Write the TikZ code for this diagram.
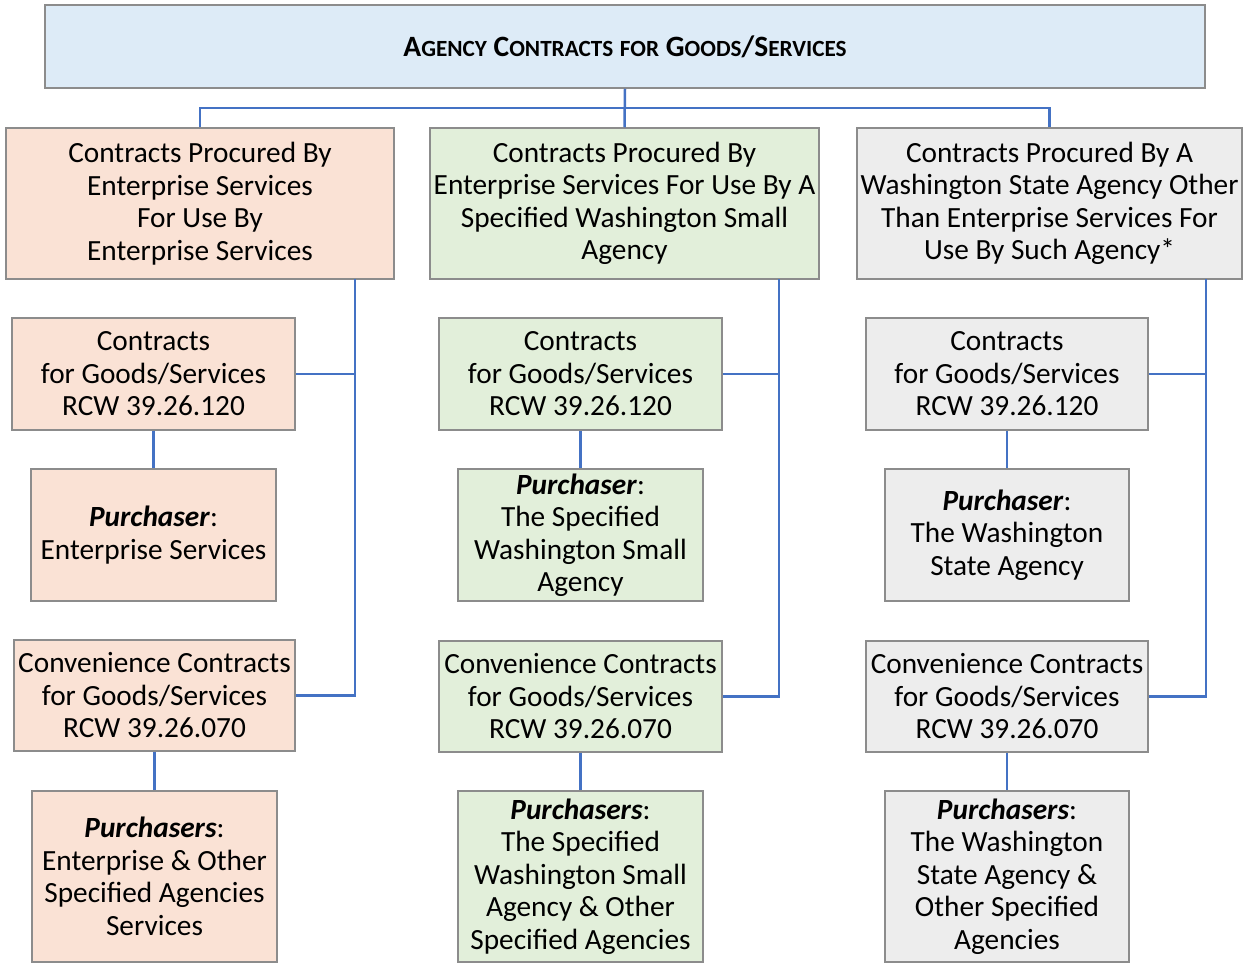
\documentclass[tikz,border=0pt]{standalone}
\usepackage{fontspec}
\setmainfont{Carlito}
\definecolor{peach}{HTML}{FAE2D5}
\definecolor{lgreen}{HTML}{E2EFDA}
\definecolor{lgray}{HTML}{EDEDED}
\definecolor{lblue}{HTML}{DDEBF7}
\definecolor{bordergray}{HTML}{8C8C8C}
\definecolor{lineblue}{HTML}{4472C4}
\newcommand\tsc[1]{{\fontsize{23.2}{24}\selectfont #1}}
\newcommand\pbi[1]{\textbf{\textit{#1}}}
\begin{document}
\begin{tikzpicture}[x=1pt,y=-1pt,
  box/.style={draw=bordergray, line width=1.5pt, rectangle, inner sep=0pt, align=center,
              font=\fontsize{29.3}{32.5}\selectfont},
  conn/.style={draw=lineblue, line width=2.5pt}]
\useasboundingbox (0,0) rectangle (1247,964);
% title
\node[box, fill=lblue, minimum width=1160pt, minimum height=83pt, font=\fontsize{29.5}{32}\selectfont] (T) at (625,46.5)
  {\textbf{A\tsc{GENCY} C\tsc{ONTRACTS} \tsc{FOR} G\tsc{OODS}/S\tsc{ERVICES}}};
% level 1
\node[box, fill=peach, minimum width=388pt, minimum height=151pt] (A) at (200,203.5)
  {Contracts Procured By\\Enterprise Services\\For Use By\\Enterprise Services};
\node[box, fill=lgreen, minimum width=389pt, minimum height=151pt] (B) at (624.5,203.5)
  {Contracts Procured By\\Enterprise Services For Use By A\\Specified Washington Small\\Agency};
\node[box, fill=lgray, minimum width=385pt, minimum height=151pt] (C) at (1049.5,203.5)
  {Contracts Procured By A\\Washington State Agency Other\\Than Enterprise Services For\\Use By Such Agency*};
% column A
\node[box, fill=peach, minimum width=283pt, minimum height=112pt] (A1) at (153.5,374)
  {Contracts\\for Goods/Services\\RCW 39.26.120};
\node[box, fill=peach, minimum width=245pt, minimum height=132pt] (A2) at (153.5,535)
  {\pbi{Purchaser}:\\Enterprise Services};
\node[box, fill=peach, minimum width=281pt, minimum height=111pt] (A3) at (154.5,695.5)
  {Convenience Contracts\\for Goods/Services\\RCW 39.26.070};
\node[box, fill=peach, minimum width=245pt, minimum height=171pt] (A4) at (154.5,876.5)
  {\pbi{Purchasers}:\\Enterprise \& Other\\Specified Agencies\\Services};
% column B
\node[box, fill=lgreen, minimum width=283pt, minimum height=112pt] (B1) at (580.5,374)
  {Contracts\\for Goods/Services\\RCW 39.26.120};
\node[box, fill=lgreen, minimum width=245pt, minimum height=132pt] (B2) at (580.5,535)
  {\pbi{Purchaser}:\\The Specified\\Washington Small\\Agency};
\node[box, fill=lgreen, minimum width=283pt, minimum height=111pt] (B3) at (580.5,696.5)
  {Convenience Contracts\\for Goods/Services\\RCW 39.26.070};
\node[box, fill=lgreen, minimum width=245pt, minimum height=171pt] (B4) at (580.5,876.5)
  {\pbi{Purchasers}:\\The Specified\\Washington Small\\Agency \& Other\\Specified Agencies};
% column C
\node[box, fill=lgray, minimum width=282pt, minimum height=112pt] (C1) at (1007,374)
  {Contracts\\for Goods/Services\\RCW 39.26.120};
\node[box, fill=lgray, minimum width=244pt, minimum height=132pt] (C2) at (1007,535)
  {\pbi{Purchaser}:\\The Washington\\State Agency};
\node[box, fill=lgray, minimum width=282pt, minimum height=111pt] (C3) at (1007,696.5)
  {Convenience Contracts\\for Goods/Services\\RCW 39.26.070};
\node[box, fill=lgray, minimum width=244pt, minimum height=171pt] (C4) at (1007,876.5)
  {\pbi{Purchasers}:\\The Washington\\State Agency \&\\Other Specified\\Agencies};
% connectors
\coordinate (bus) at (625,108);
\draw[conn] (A.north) -- (A.north |- bus) -- (C.north |- bus) -- (C.north);
\draw[conn] (T.south) -- (B.north);
\coordinate (sA) at (355,279);
\coordinate (sB) at (779,279);
\coordinate (sC) at (1206,279);
\draw[conn] (A1.east) -| (sA);
\draw[conn] (A3.east) -| (sA);
\draw[conn] (B1.east) -| (sB);
\draw[conn] (B3.east) -| (sB);
\draw[conn] (C1.east) -| (sC);
\draw[conn] (C3.east) -| (sC);
\draw[conn] (A1.south) -- (A2.north);
\draw[conn] (A3.south) -- (A4.north);
\draw[conn] (B1.south) -- (B2.north);
\draw[conn] (B3.south) -- (B4.north);
\draw[conn] (C1.south) -- (C2.north);
\draw[conn] (C3.south) -- (C4.north);
\end{tikzpicture}
\end{document}
